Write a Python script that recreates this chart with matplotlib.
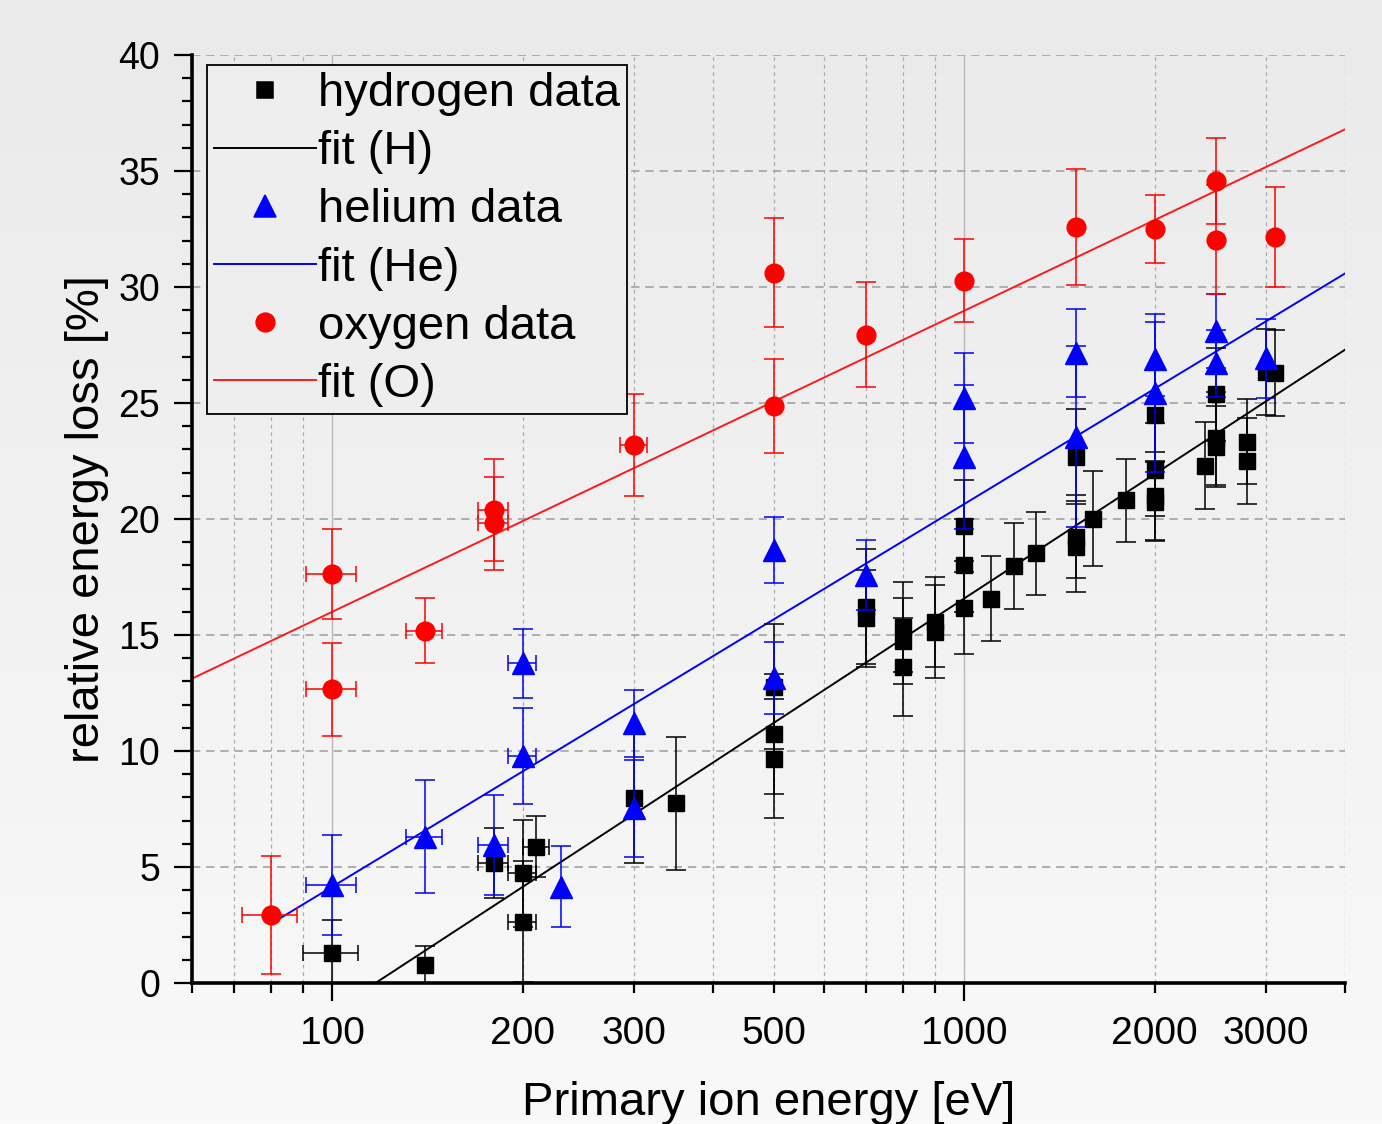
import numpy as np
import matplotlib
matplotlib.use('Agg')
import matplotlib.pyplot as plt
from matplotlib.ticker import FixedLocator, MultipleLocator, FuncFormatter
from matplotlib.lines import Line2D
from matplotlib.colors import LinearSegmentedColormap

plt.rcParams['font.family'] = ['Liberation Sans', 'DejaVu Sans']

# ---------------- data ----------------
h_energy = [100, 140, 180, 200, 200, 210, 300, 350, 500, 500, 500, 700, 700,
            800, 800, 800, 900, 900, 1000, 1000, 1000, 1100, 1200, 1300,
            1500, 1500, 1500, 1600, 1800, 2000, 2000, 2000, 2000, 2400,
            2500, 2500, 2500, 2800, 2800, 3000, 3100]
h_loss = [1.31, 0.78, 5.16, 4.73, 2.64, 5.88, 7.96, 7.75, 12.77, 10.74, 9.67,
          16.22, 15.72, 15.34, 14.74, 13.63, 15.57, 15.14, 19.7, 18.0, 16.18,
          16.57, 17.97, 18.52, 22.69, 19.24, 18.81, 20.02, 20.8, 24.48, 22.12,
          21.0, 20.75, 22.3, 25.37, 23.48, 23.12, 23.33, 22.5, 26.35, 26.28]
h_yerr = [1.4, 0.8, 1.5, 2.3, 2.6, 1.3, 2.8, 2.86, 2.7, 2.6, 2.55, 2.47, 2.1,
          1.93, 1.87, 2.1, 1.95, 2.0, 2.0, 2.0, 2.0, 1.85, 1.85, 1.8, 2.04,
          1.8, 1.95, 2.05, 1.8, 2.0, 2.0, 1.9, 1.7, 1.86, 2.0, 2.0, 1.75,
          1.84, 1.87, 1.85, 1.85]
h_xerr = [10, 0, 10, 10, 10, 10, 0, 0, 0, 0, 0, 0, 0, 0, 0, 0, 0, 0, 0, 0, 0,
          0, 0, 0, 0, 0, 0, 0, 0, 0, 0, 0, 0, 0, 0, 0, 0, 0, 0, 0, 0]

he_energy = [100, 140, 180, 200, 200, 230, 300, 300, 500, 500, 700, 1000, 1000,
             1500, 1500, 2000, 2000, 2500, 2500, 3000]
he_loss = [4.22, 6.31, 5.95, 13.78, 9.78, 4.15, 11.19, 7.53, 18.66, 13.13,
           17.59, 25.2, 22.69, 27.14, 23.55, 26.9, 25.42, 28.1, 26.71, 26.93]
he_yerr = [2.15, 2.45, 2.15, 1.5, 2.07, 1.75, 1.45, 2.1, 1.42, 1.55, 1.5, 1.94,
           3.1, 1.9, 3.9, 1.6, 3.4, 1.6, 1.45, 1.7]
he_xerr = [9, 9, 10, 10, 10, 0, 0, 0, 0, 0, 0, 0, 0, 0, 0, 0, 0, 0, 0, 0]

o_energy = [80, 100, 100, 140, 180, 180, 300, 500, 500, 700, 1000, 1500, 2000,
            2500, 2500, 3100]
o_loss = [2.93, 17.63, 12.66, 15.19, 20.39, 19.81, 23.19, 30.62, 24.88, 27.94,
          30.28, 32.6, 32.49, 34.58, 32.03, 32.14]
o_yerr = [2.55, 1.95, 2.0, 1.4, 2.2, 2.0, 2.2, 2.34, 2.03, 2.27, 1.8, 2.5,
          1.46, 1.85, 2.35, 2.15]
o_xerr = [8, 9, 9, 9, 10, 10, 15, 0, 0, 0, 0, 0, 0, 0, 0, 0]

# linear fits in log10(E):  loss = a + b*log10(E)
fit_h = (-36.82, 17.8)
fit_he = (-28.85, 16.5)
fit_o = (-9.96, 12.98)
fit_h_range = (100, 4000)
fit_he_range = (80, 4000)
fit_o_range = (60, 4000)

x_major = [100, 1000]
x_minor = [60, 70, 80, 90, 200, 300, 400, 500, 600, 700, 800, 900, 2000, 3000, 4000]
x_minor_labeled = [200, 300, 500, 2000, 3000]

legend_labels = ['hydrogen data', 'fit (H)', 'helium data', 'fit (He)',
                 'oxygen data', 'fit (O)']

# ---------------- figure ----------------
W, H = 1382, 1124
fig = plt.figure(figsize=(W / 100, H / 100), dpi=100)
fig.patch.set_facecolor('#f2f2f2')
bg = fig.add_axes([0, 0, 1, 1], zorder=-10)
grad = np.linspace(0, 1, 256).reshape(-1, 1)
bg.imshow(grad, aspect='auto', extent=[0, 1, 0, 1],
          cmap=LinearSegmentedColormap.from_list('bg', ['#eaeaea', '#f9f9f9']))
bg.axis('off')

ax = fig.add_axes([192 / W, 1 - 983 / H, (1345 - 192) / W, (983 - 55) / H], zorder=1)
ax.patch.set_alpha(0)
ax.set_xscale('log')
ax.set_xlim(60, 4000)
ax.set_ylim(0, 40)

# ticks and grid
ax.xaxis.set_major_locator(FixedLocator(x_major))
ax.xaxis.set_minor_locator(FixedLocator(x_minor))
ax.xaxis.set_major_formatter(FuncFormatter(lambda v, p: f'{int(round(v))}'))
ax.xaxis.set_minor_formatter(FuncFormatter(
    lambda v, p: f'{int(round(v))}' if int(round(v)) in x_minor_labeled else ''))
ax.yaxis.set_major_locator(MultipleLocator(5))
ax.yaxis.set_minor_locator(MultipleLocator(1))

ax.grid(True, which='major', axis='x', color='#b8b8b8', lw=1.0, ls='-')
ax.grid(True, which='minor', axis='x', color='#ababab', lw=0.9, ls=(0, (3, 3)))
ax.grid(True, which='major', axis='y', color='#a3a3a3', lw=1.2, ls=(0, (5, 3.5)))
ax.set_axisbelow(True)

for s in ['top', 'right']:
    ax.spines[s].set_visible(False)
for s in ['left', 'bottom']:
    ax.spines[s].set_linewidth(2.6)
    ax.spines[s].set_color('black')

ax.tick_params(axis='x', which='major', length=13, width=1.6, pad=11,
               labelsize=28, direction='out')
ax.tick_params(axis='x', which='minor', length=7, width=1.6, pad=17,
               labelsize=28, direction='out')
ax.tick_params(axis='y', which='major', length=13, width=1.6, pad=10,
               labelsize=27, direction='out')
ax.tick_params(axis='y', which='minor', length=7, width=1.6, direction='out')


def draw_series(energy, loss, yerr, xerr, marker, color, ms, z):
    e = np.array(energy, float)
    l = np.array(loss, float)
    ye = np.array(yerr, float)
    xe = np.array(xerr, float)
    m = xe > 0
    ax.errorbar(e[m], l[m], xerr=xe[m], fmt='none', ecolor=color,
                elinewidth=1.1, capsize=6, capthick=1.1, zorder=z)
    ax.errorbar(e, l, yerr=ye, fmt=marker, color=color, ms=ms,
                mfc=color, mec=color,
                ecolor=color, elinewidth=1.1, capsize=7, capthick=1.1,
                zorder=z + 0.5)


def draw_fit(fit, rng, color):
    xs = np.logspace(np.log10(rng[0]), np.log10(rng[1]), 50)
    ax.plot(xs, fit[0] + fit[1] * np.log10(xs), color=color, lw=1.4, zorder=2.5)


draw_fit(fit_h, fit_h_range, 'black')
draw_fit(fit_he, fit_he_range, '#0000ff')
draw_fit(fit_o, fit_o_range, '#ff1a1a')
draw_series(h_energy, h_loss, h_yerr, h_xerr, 's', 'black', 12, 3)
draw_series(he_energy, he_loss, he_yerr, he_xerr, '^', '#0000ff', 16, 4)
draw_series(o_energy, o_loss, o_yerr, o_xerr, 'o', '#ff0000', 13.5, 5)

ax.set_xlabel('Primary ion energy [eV]', fontsize=34)
ax.xaxis.set_label_coords(0.5, -0.106)
ax.set_ylabel('relative energy loss [%]', fontsize=34)
ax.yaxis.set_label_coords(-0.072, 0.5)

handles = [
    Line2D([], [], ls='none', marker='s', color='black', ms=12, mew=1.1),
    Line2D([], [], color='black', lw=1.4),
    Line2D([], [], ls='none', marker='^', color='#0000ff', ms=16, mew=1.1),
    Line2D([], [], color='#0000ff', lw=1.4),
    Line2D([], [], ls='none', marker='o', color='#ff0000', ms=13.5, mew=1.1),
    Line2D([], [], color='#ff1a1a', lw=1.4),
]
leg = ax.legend(handles, legend_labels, loc='upper left',
                bbox_to_anchor=(15 / 1153, 1 - 10 / 928), borderaxespad=0,
                fontsize=34, frameon=True, fancybox=False, edgecolor='black',
                facecolor='#eeeeee', framealpha=1, handlelength=2.15,
                handletextpad=0.04, labelspacing=0.30, borderpad=0.15)
leg.get_frame().set_linewidth(1.3)
leg.set_zorder(10)

fig.savefig('out.png', dpi=100)
